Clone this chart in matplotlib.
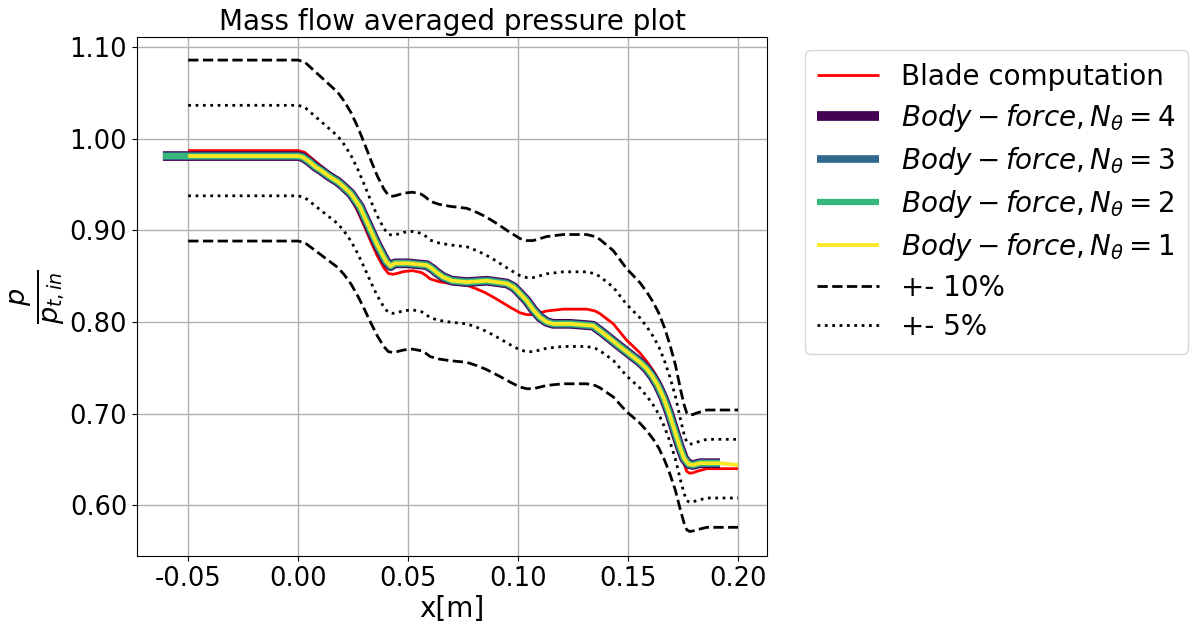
import matplotlib
matplotlib.use("Agg")
import matplotlib.pyplot as plt
import numpy as np

# Blade-resolved computation: mass flow averaged p / p_t,in along the axis
blade_x = [-0.050, 0.000, 0.003, 0.006, 0.010, 0.014, 0.018, 0.021, 0.024,
           0.027, 0.030, 0.033, 0.036, 0.039, 0.041, 0.043, 0.045, 0.048,
           0.052, 0.056, 0.058, 0.060, 0.064, 0.069, 0.0767, 0.0812, 0.085,
           0.0888, 0.093, 0.0964, 0.1009, 0.104, 0.1068, 0.110, 0.113,
           0.1205, 0.1312, 0.135, 0.1373, 0.140, 0.1433, 0.146, 0.1494,
           0.1525, 0.1555, 0.1585, 0.1614, 0.164, 0.1665, 0.169, 0.1715,
           0.174, 0.1755, 0.1767, 0.178, 0.1795, 0.1812, 0.1858, 0.200]
blade_p = [0.987, 0.987, 0.985, 0.979, 0.971, 0.963, 0.955, 0.946, 0.935,
           0.921, 0.905, 0.888, 0.872, 0.859, 0.853, 0.852, 0.853, 0.855,
           0.856, 0.854, 0.851, 0.847, 0.844, 0.842, 0.840, 0.836, 0.832,
           0.827, 0.821, 0.816, 0.810, 0.808, 0.808, 0.810, 0.812,
           0.814, 0.814, 0.812, 0.809, 0.804, 0.798, 0.790, 0.780,
           0.773, 0.766, 0.757, 0.747, 0.736, 0.722, 0.705, 0.685,
           0.659, 0.645, 0.637, 0.635, 0.6355, 0.637, 0.640, 0.640]

# Body-force model profile (all azimuthal resolutions coincide)
bf_x = [-0.0615, -0.050, 0.000, 0.002, 0.005, 0.008, 0.010, 0.014, 0.018,
        0.020, 0.024, 0.028, 0.032, 0.036, 0.040, 0.042, 0.044, 0.047,
        0.050, 0.0585, 0.061, 0.063, 0.0659, 0.070, 0.0767, 0.0858, 0.0949,
        0.098, 0.1009, 0.104, 0.107, 0.110, 0.113, 0.1159, 0.1236, 0.1341,
        0.1386, 0.1464, 0.1523, 0.1555, 0.1585, 0.161, 0.1635, 0.166,
        0.1685, 0.171, 0.1735, 0.1755, 0.1775, 0.1795, 0.1827, 0.1918,
        0.200]
bf_p = [0.981, 0.981, 0.981, 0.980, 0.975, 0.969, 0.966, 0.959, 0.953,
        0.949, 0.940, 0.926, 0.905, 0.884, 0.866, 0.861, 0.864, 0.864,
        0.864, 0.862, 0.858, 0.854, 0.849, 0.845, 0.8435, 0.845, 0.842,
        0.838, 0.831, 0.823, 0.813, 0.805, 0.800, 0.798, 0.798, 0.796,
        0.788, 0.773, 0.762, 0.756, 0.749, 0.741, 0.731, 0.718,
        0.702, 0.683, 0.664, 0.651, 0.645, 0.644, 0.646, 0.646,
        0.644]

n_theta = [4, 3, 2, 1]
bf_colors = ["#440154", "#31688e", "#35b779", "#fde725"]
bf_widths = [7.0, 5.5, 4.5, 2.7]

band_10 = 0.10
band_05 = 0.05

fig = plt.figure(figsize=(11.92, 6.33), dpi=100)
ax = fig.add_axes([0.1149, 0.1216, 0.5286, 0.8207])

bx = np.array(blade_x)
bp = np.array(blade_p)
ax.plot(bx, bp, color="red", lw=2.0, solid_capstyle="butt",
        label="Blade computation", zorder=2)

for n, c, w in zip(n_theta, bf_colors, bf_widths):
    if n == 1:
        xs, ps = bf_x[1:], bf_p[1:]
    else:
        xs, ps = bf_x[:-1], bf_p[:-1]
    ax.plot(xs, ps, color=c, lw=w, solid_capstyle="butt",
            solid_joinstyle="round",
            label=r"$Body-force, N_{\theta}=%d$" % n, zorder=3)

ax.plot(bx, bp * (1 + band_10), "k--", lw=2.0, label="+- 10%", zorder=2)
ax.plot(bx, bp * (1 - band_10), "k--", lw=2.0, zorder=2)
ax.plot(bx, bp * (1 + band_05), "k:", lw=2.0, label="+- 5%", zorder=2)
ax.plot(bx, bp * (1 - band_05), "k:", lw=2.0, zorder=2)

ax.set_xlim(-0.0733, 0.2132)
ax.set_ylim(0.5447, 1.1114)
ax.set_xticks([-0.05, 0.0, 0.05, 0.10, 0.15, 0.20])
ax.set_xticklabels(["-0.05", "0.00", "0.05", "0.10", "0.15", "0.20"])
ax.set_yticks([0.6, 0.7, 0.8, 0.9, 1.0, 1.1])
ax.set_yticklabels(["0.60", "0.70", "0.80", "0.90", "1.00", "1.10"])
ax.tick_params(labelsize=18.5)
ax.grid(True, color="#b0b0b0", lw=1.0)
ax.set_axisbelow(True)

ax.set_title("Mass flow averaged pressure plot", fontsize=20, pad=5)
ax.set_xlabel("x[m]", fontsize=20, labelpad=2)
ax.set_ylabel(r"$\frac{p}{p_{t,in}}$", fontsize=28, labelpad=2)

ax.legend(loc="upper left", bbox_to_anchor=(0.6753, 0.921),
          bbox_transform=fig.transFigure, borderaxespad=0, fontsize=20,
          labelspacing=0.4, handlelength=2.2, handletextpad=0.8,
          borderpad=0.45)

fig.savefig("out.png", dpi=100)
